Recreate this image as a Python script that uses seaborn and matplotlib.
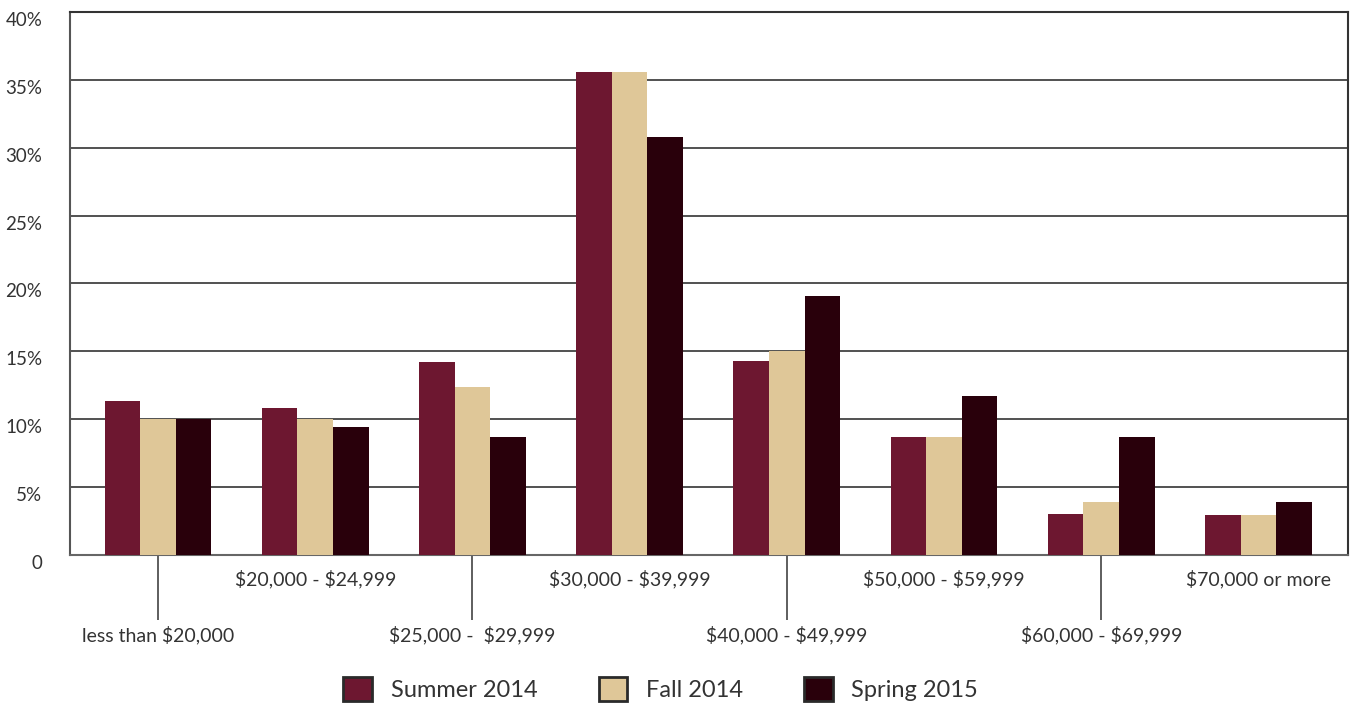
import pandas as pd
import matplotlib.pyplot as plt
import matplotlib.transforms as mtransforms
from matplotlib.patches import Patch
import seaborn as sns

sns.set_theme(style="white")
plt.rcParams['font.family'] = ['Lato', 'DejaVu Sans']
plt.rcParams['text.parse_math'] = False

# Dados
faixas = ["less than $20,000", "$20,000 - $24,999", "$25,000 -  $29,999", "$30,000 - $39,999",
          "$40,000 - $49,999", "$50,000 - $59,999", "$60,000 - $69,999", "$70,000 or more"]
periodos = ["Summer 2014", "Fall 2014", "Spring 2015"]
summer_2014 = [11.3, 10.8, 14.2, 35.6, 14.3, 8.7, 3.0, 2.9]
fall_2014 = [10.0, 10.0, 12.4, 35.6, 15.0, 8.7, 3.9, 2.9]
spring_2015 = [10.0, 9.4, 8.7, 30.8, 19.1, 11.7, 8.7, 3.9]
y_ticks = [0, 5, 10, 15, 20, 25, 30, 35, 40]
y_labels = ["0", "5%", "10%", "15%", "20%", "25%", "30%", "35%", "40%"]
cores = ["#6D1730", "#DFC798", "#29000B"]

df = pd.DataFrame({
    "faixa": faixas * 3,
    "periodo": [p for p in periodos for _ in faixas],
    "valor": summer_2014 + fall_2014 + spring_2015,
})

fig = plt.figure(figsize=(13.54, 7.05), dpi=100)
ax = fig.add_axes([0.0517, 0.213, 0.9439, 0.770])

sns.barplot(data=df, x="faixa", y="valor", hue="periodo", order=faixas, hue_order=periodos,
            palette=cores, width=0.68, linewidth=0, saturation=1, ax=ax, legend=False, zorder=3)

ax.set_ylim(0, 40)
ax.set_xlim(-0.56, 7.57)
ax.set_xlabel("")
ax.set_ylabel("")

# Eixo Y
ax.set_yticks(y_ticks, y_labels)
ax.tick_params(axis="y", length=0, pad=20, labelsize=13.5, labelcolor="#333333")
ax.yaxis.grid(True, color="#333333", linewidth=1.2, zorder=0)
ax.set_axisbelow(True)
deslocamento = mtransforms.ScaledTranslation(0, -0.07, fig.dpi_scale_trans)
for lbl in ax.get_yticklabels():
    lbl.set_transform(lbl.get_transform() + deslocamento)

# Eixo X: rótulos alternados
pares = [0, 2, 4, 6]
impares = [1, 3, 5, 7]
ax.set_xticks(pares, [faixas[i] for i in pares])
ax.set_xticks(impares, [faixas[i] for i in impares], minor=True)
ax.tick_params(axis="x", which="major", bottom=True, direction="out", length=47, width=1.1,
               color="#333333", pad=4, labelsize=14, labelcolor="#333333")
ax.tick_params(axis="x", which="minor", bottom=False, length=0, pad=11, labelsize=14,
               labelcolor="#333333")

for lado in ["top", "right", "left", "bottom"]:
    ax.spines[lado].set_visible(True)
    ax.spines[lado].set_color("#333333")
    ax.spines[lado].set_linewidth(1.5)
ax.spines["left"].set_color("#555555")
ax.spines["bottom"].set_color("#666666")

# Legenda
handles = [Patch(facecolor=c, edgecolor="#2a2a2a", linewidth=2) for c in cores]
fig.legend(handles, periodos, loc="center", bbox_to_anchor=(0.488, 0.023), ncol=3, frameon=False,
           fontsize=17, handlelength=1.2, handleheight=1.2, handletextpad=0.8, columnspacing=2.6,
           labelcolor="#333333")

fig.savefig("out.png", dpi=100)
